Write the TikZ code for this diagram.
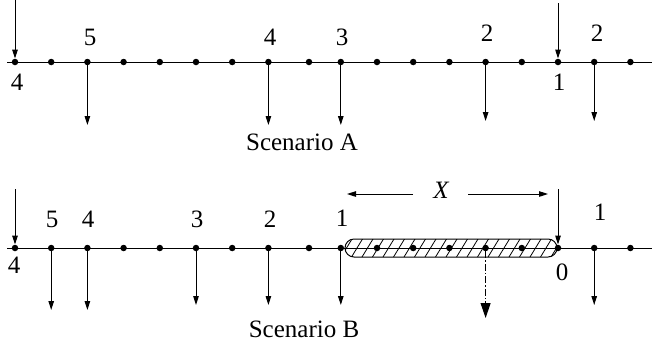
\documentclass[tikz,border=0pt]{standalone}
\usepackage{fontspec}
\setmainfont{Liberation Serif}
\usetikzlibrary{arrows.meta}
\begin{document}
\begin{tikzpicture}[x=1bp,y=-1bp,
  dot/.style={circle,fill,inner sep=0pt,minimum size=6.5bp},
  lbl/.style={font=\fontsize{25bp}{30bp}\selectfont,anchor=base,inner sep=0pt},
  arr/.style={line width=1bp,-{Triangle[length=9bp,width=5.5bp]}},
  axisline/.style={line width=1bp},
  hatchbox/.style={draw,line width=1bp,rounded corners=9bp,minimum width=212bp,minimum height=18bp,inner sep=0pt,
    path picture={\foreach \k in {0,...,20}{\draw[line width=0.8bp]
      ([xshift=\k*10.5bp-4bp]path picture bounding box.south west) -- ++(11bp,18bp);}}},
  ddarr/.style={line width=1bp,dash pattern=on 7bp off 2bp on 1.5bp off 2bp,-{Triangle[length=15bp,width=10bp]}}]
\useasboundingbox (0,0) rectangle (652,345);
% axes
\coordinate (aL) at (7,62);  \coordinate (aR) at (652,62);
\coordinate (bL) at (7,248); \coordinate (bR) at (652,248);
\draw[axisline] (aL) -- (aR);
\draw[axisline] (bL) -- (bR);
% hatched box
\node[hatchbox] (box) at (451,248) {};
% dots
\foreach \x [count=\i from 0] in {15,51.2,87.4,123.6,159.8,196,232.2,268.4,309,340.8,377,413.2,449.4,485.6,521.8,558,594.2,630.4}{
  \node[dot] (a\i) at (\x,62) {};
  \node[dot] (b\i) at (\x,248) {};
}
% ---------- Scenario A ----------
\coordinate (ta0) at (15,0);
\coordinate (ta15) at (558,3);
\draw[arr] (ta0) -- (a0);
\draw[arr] (ta15) -- (a15);
\coordinate (da2) at (87.4,125);
\coordinate (da7) at (268.4,125);
\coordinate (da9) at (340.8,125);
\coordinate (da13) at (485.6,121);
\coordinate (da16) at (594.2,121);
\draw[arr] (a2) -- (da2);
\draw[arr] (a7) -- (da7);
\draw[arr] (a9) -- (da9);
\draw[arr] (a13) -- (da13);
\draw[arr] (a16) -- (da16);
\node[lbl] (la5) at (90,45) {5};
\node[lbl] (la4) at (270,45) {4};
\node[lbl] (la3) at (342,45) {3};
\node[lbl] (la2) at (487,41) {2};
\node[lbl] (la2b) at (597,41) {2};
\node[lbl] (la4b) at (17,90) {4};
\node[lbl] (la1) at (559,90) {1};
\node[lbl] (scA) at (302,150) {Scenario A};
% ---------- Scenario B ----------
\coordinate (tb0) at (15,189);
\coordinate (tb15) at (558,189);
\draw[arr] (tb0) -- (b0);
\draw[arr] (tb15) -- (b15);
\coordinate (db1) at (51.2,310);
\coordinate (db2) at (87.4,310);
\coordinate (db5) at (196,305);
\coordinate (db7) at (268.4,305);
\coordinate (db9) at (340.8,305);
\coordinate (db16) at (594.2,305);
\draw[arr] (b1) -- (db1);
\draw[arr] (b2) -- (db2);
\draw[arr] (b5) -- (db5);
\draw[arr] (b7) -- (db7);
\draw[arr] (b9) -- (db9);
\draw[arr] (b16) -- (db16);
\coordinate (db13) at (485.6,318);
\draw[ddarr] (b13) -- (db13);
\node[lbl] (lb5) at (52,227) {5};
\node[lbl] (lb4) at (88,227) {4};
\node[lbl] (lb3) at (197,227) {3};
\node[lbl] (lb2) at (270,227) {2};
\node[lbl] (lb1) at (342,226) {1};
\node[lbl] (lb1b) at (600,220) {1};
\node[lbl] (lb4b) at (14,273) {4};
\node[lbl] (lb0) at (562,280) {0};
\node[lbl] (scB) at (304,337) {Scenario B};
\node[lbl] (xlab) at (441,198) {\itshape X};
\coordinate (xa1) at (413,194); \coordinate (xa2) at (347,194);
\coordinate (xb1) at (468,194); \coordinate (xb2) at (548,194);
\draw[arr] (xa1) -- (xa2);
\draw[arr] (xb1) -- (xb2);
\end{tikzpicture}
\end{document}
